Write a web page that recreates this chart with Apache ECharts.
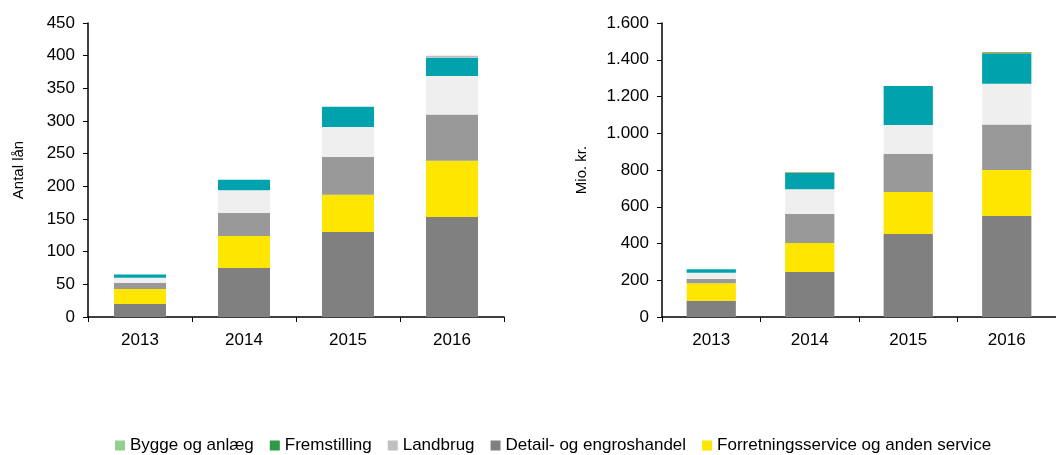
<!DOCTYPE html>
<html>
<head>
<meta charset="utf-8">
<script src="https://cdn.jsdelivr.net/npm/echarts@6/dist/echarts.min.js"></script>
<style>
  html, body { margin: 0; padding: 0; background: #fff; }
  #main { width: 1056px; height: 455px; }
</style>
</head>
<body>
<div id="main"></div>
<script>
// data
var years = ['2013', '2014', '2015', '2016'];

// venstre: antal lån
var antalDetail = [20, 75, 130, 153];
var antalForretning = [23, 49, 57, 86];
var antalGraa = [9, 35, 58, 71];
var antalLys = [8, 35, 46, 59];
var antalTeal = [5, 16, 31, 28];
var antalLandbrug = [0, 0, 0, 3];

// højre: mio. kr.
var kronerDetail = [88, 245, 452, 550];
var kronerForretning = [95, 158, 228, 250];
var kronerGraa = [24, 157, 207, 247];
var kronerLys = [34, 135, 158, 223];
var kronerTeal = [19, 90, 212, 165];
var kronerOliven = [0, 4, 0, 7];

var legendNames = ['Bygge og anlæg', 'Fremstilling', 'Landbrug', 'Detail- og engroshandel', 'Forretningsservice og anden service'];

var colors = {
  bygge: '#92d08c',
  fremstilling: '#2e9a45',
  landbrug: '#c0c0c0',
  detail: '#808080',
  forretning: '#ffe600',
  graa: '#999999',
  lys: '#efefef',
  teal: '#00a3ad',
  oliven: '#b5a64a'
};

var myChart = echarts.init(document.getElementById('main'));

function bar(name, data, color, idx, stack) {
  return {
    name: name,
    type: 'bar',
    stack: stack,
    xAxisIndex: idx,
    yAxisIndex: idx,
    barWidth: '50%',
    data: data,
    itemStyle: { color: color },
    emphasis: { disabled: true }
  };
}

var axisFont = { fontFamily: 'Liberation Sans', fontSize: 17, color: '#000' };

function xAx(idx) {
  return {
    type: 'category',
    gridIndex: idx,
    data: years,
    axisLine: { lineStyle: { color: '#000', width: 1.5 } },
    axisTick: { show: true, length: 5, lineStyle: { color: '#000' } },
    axisLabel: Object.assign({ margin: 15 }, axisFont)
  };
}

function yAx(idx, max, interval, name, gap) {
  return {
    type: 'value',
    gridIndex: idx,
    min: 0,
    max: max,
    interval: interval,
    name: name,
    nameLocation: 'middle',
    nameGap: gap,
    nameTextStyle: { fontFamily: 'Liberation Sans', fontSize: 15, color: '#000' },
    splitLine: { show: false },
    axisLine: { show: true, lineStyle: { color: '#000', width: 1.5 } },
    axisTick: { show: true, length: 5, lineStyle: { color: '#000' } },
    axisLabel: Object.assign({
      margin: 13,
      formatter: function (v) {
        return String(v).replace(/\B(?=(\d{3})+(?!\d))/g, '.');
      }
    }, axisFont)
  };
}

var option = {
  animation: false,
  legend: {
    data: legendNames,
    left: 110,
    top: 432,
    itemWidth: 10,
    itemHeight: 10,
    itemGap: 16,
    itemTextGap: 4,
    icon: 'rect',
    textStyle: { fontFamily: 'Liberation Sans', fontSize: 17, color: '#000' }
  },
  grid: [
    { left: 88, top: 23, width: 416, bottom: 138 },
    { left: 662, top: 23, width: 403, bottom: 138 }
  ],
  xAxis: [xAx(0), xAx(1)],
  yAxis: [yAx(0, 450, 50, 'Antal lån', 62), yAx(1, 1600, 200, 'Mio. kr.', 73)],
  series: [
    bar('Detail- og engroshandel', antalDetail, colors.detail, 0, 'a'),
    bar('Forretningsservice og anden service', antalForretning, colors.forretning, 0, 'a'),
    bar('Øvrige a', antalGraa, colors.graa, 0, 'a'),
    bar('Øvrige b', antalLys, colors.lys, 0, 'a'),
    bar('Øvrige c', antalTeal, colors.teal, 0, 'a'),
    bar('Landbrug', antalLandbrug, colors.landbrug, 0, 'a'),

    bar('Detail- og engroshandel', kronerDetail, colors.detail, 1, 'k'),
    bar('Forretningsservice og anden service', kronerForretning, colors.forretning, 1, 'k'),
    bar('Øvrige a', kronerGraa, colors.graa, 1, 'k'),
    bar('Øvrige b', kronerLys, colors.lys, 1, 'k'),
    bar('Øvrige c', kronerTeal, colors.teal, 1, 'k'),
    bar('Øvrige d', kronerOliven, colors.oliven, 1, 'k'),

    bar('Bygge og anlæg', [], colors.bygge, 1, 'k'),
    bar('Fremstilling', [], colors.fremstilling, 1, 'k')
  ]
};

myChart.setOption(option);
</script>
</body>
</html>
